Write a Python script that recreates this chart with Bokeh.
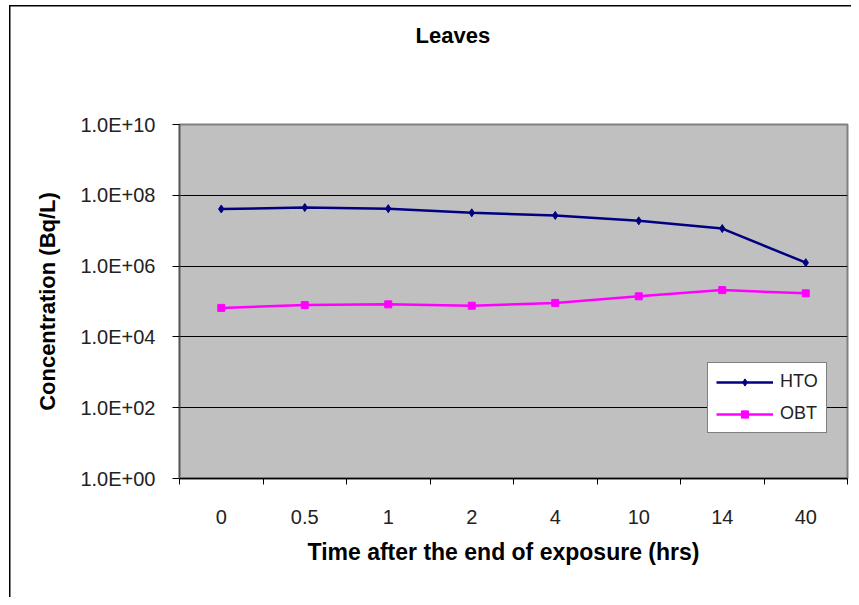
import numpy as np
from bokeh.plotting import figure
from bokeh.models import Range1d, FixedTicker, Legend, LegendItem, Title
from bokeh.embed import file_html
from bokeh.resources import INLINE

# ---- data ----
categories = ["0", "0.5", "1", "2", "4", "10", "14", "40"]
hto = [4.1e7, 4.5e7, 4.2e7, 3.2e7, 2.7e7, 1.9e7, 1.15e7, 1.25e6]
obt = [6.6e4, 7.9e4, 8.3e4, 7.6e4, 9.1e4, 1.4e5, 2.1e5, 1.7e5]
y_ticks = [1e0, 1e2, 1e4, 1e6, 1e8, 1e10]
y_tick_labels = ["1.0E+00", "1.0E+02", "1.0E+04", "1.0E+06", "1.0E+08", "1.0E+10"]

FONT = "Liberation Sans"

xpos = [i + 0.5 for i in range(len(categories))]
bounds = list(range(len(categories) + 1))

p = figure(width=851, height=597,
           x_range=Range1d(0, len(categories)), y_range=Range1d(1, 1e10),
           y_axis_type="log", output_backend="svg", toolbar_location=None,
           min_border_left=179, min_border_right=4, min_border_top=124,
           min_border_bottom=119, title=None)
p.border_fill_color = None
p.styles = {"box-shadow": "inset 9px 5px 0 0 #fff, inset 10.5px 6.5px 0 0 #000"}
p.background_fill_color = "#C0C0C0"
p.outline_line_color = "#808080"
p.outline_line_width = 2

# x axis
xa = p.xaxis[0]
xa.ticker = FixedTicker(ticks=xpos, minor_ticks=bounds)
xa.major_label_overrides = {x: c for x, c in zip(xpos, categories)}
xa.major_tick_in = 0
xa.major_tick_out = 0
xa.minor_tick_in = 0
xa.minor_tick_out = 6
xa.minor_tick_line_color = "black"
xa.axis_line_color = "black"
xa.axis_line_width = 1.5
xa.major_label_standoff = 25
xa.major_label_text_font = FONT
xa.major_label_text_font_size = "20px"
xa.major_label_text_color = "#222222"

# y axis
ya = p.yaxis[0]
ya.ticker = FixedTicker(ticks=y_ticks)
ya.major_label_overrides = {t: s for t, s in zip(y_ticks, y_tick_labels)}
ya.major_tick_in = 0
ya.major_tick_out = 7
ya.minor_tick_in = 0
ya.minor_tick_out = 0
ya.major_tick_line_color = "black"
ya.axis_line_color = "#555555"
ya.axis_line_width = 1.5
ya.major_label_standoff = 17
ya.major_label_text_font = FONT
ya.major_label_text_font_size = "20px"
ya.major_label_text_color = "#222222"
ya.axis_label = "Concentration (Bq/L)"
ya.axis_label_text_font = FONT
ya.axis_label_text_font_size = "22px"
ya.axis_label_text_font_style = "bold"
ya.axis_label_standoff = 17
ya.axis_label_text_color = "black"

p.xgrid.grid_line_color = None
p.ygrid.grid_line_color = "black"
p.ygrid.grid_line_width = 1

l1 = p.line(xpos, hto, line_color="#000080", line_width=2.5)
s1 = p.scatter(xpos, hto, marker="diamond", size=8, fill_color="#000080", line_color="#000080")
l2 = p.line(xpos, obt, line_color="#FF00FF", line_width=2.5)
s2 = p.scatter(xpos, obt, marker="square", size=7, fill_color="#FF00FF", line_color="#FF00FF")

legend = Legend(items=[LegendItem(label="HTO", renderers=[l1, s1]),
                       LegendItem(label="OBT", renderers=[l2, s2])],
                location=(528, 45))
legend.border_line_color = "black"
legend.border_line_width = 1.5
legend.background_fill_color = "white"
legend.background_fill_alpha = 1
legend.label_text_font = FONT
legend.label_text_font_size = "18px"
legend.label_text_color = "#222222"
legend.glyph_width = 57
legend.glyph_height = 18
legend.label_height = 18
legend.spacing = 11
legend.padding = 8
legend.margin = 0
legend.label_standoff = 7
p.add_layout(legend)

title = Title(text="Leaves", align="left", offset=236, standoff=10, text_font=FONT,
              text_font_size="22px", text_font_style="bold", text_color="black",
              padding=dict(top=0, right=0, bottom=72, left=0))
p.add_layout(title, "above")

xlabel = Title(text="Time after the end of exposure (hrs)", align="left", offset=128,
               vertical_align="middle", standoff=22, text_font=FONT, text_font_size="23px",
               text_font_style="bold", text_color="black")
p.add_layout(xlabel, "below")

open("out.html", "w").write(file_html(p, INLINE))
